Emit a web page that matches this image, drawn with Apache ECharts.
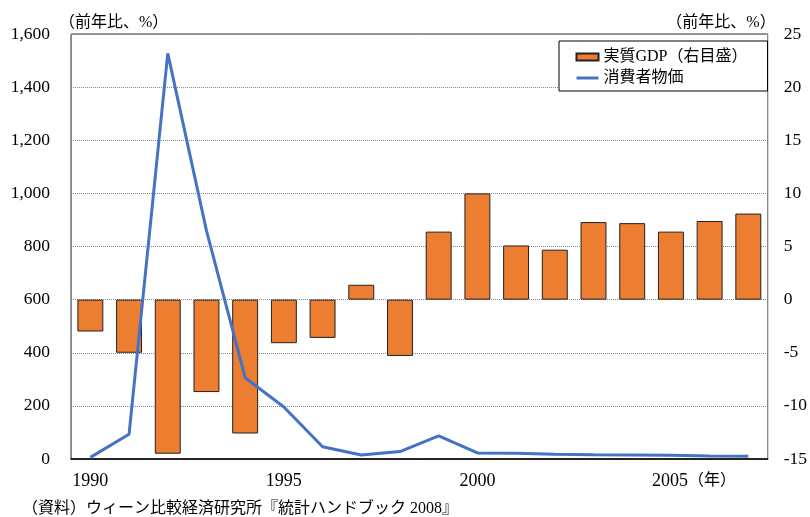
<!DOCTYPE html>
<html>
<head>
    <meta charset="UTF-8">
    <title>実質GDPと消費者物価</title>
</head>
<body style="margin:0">
    <div id="main"></div>
</body>
<style type="text/css">
    #main{height: 517px;width: 810px;}
</style>
<script type="text/javascript" src="https://cdn.jsdelivr.net/npm/echarts@6/dist/echarts.min.js"></script>
<script type="text/javascript">
// データ（前年比、%）
var years = ['1990','1991','1992','1993','1994','1995','1996','1997','1998','1999',
             '2000','2001','2002','2003','2004','2005','2006','2007'];
var gdp = [-3.0, -5.0, -14.5, -8.7, -12.6, -4.1, -3.6, 1.4, -5.3, 6.4,
           10.0, 5.1, 4.7, 7.3, 7.2, 6.4, 7.4, 8.1];
var cpi = [6, 93, 1527, 860, 306, 196, 46, 15, 28, 87,
           23, 22, 18, 16, 15, 14, 11, 10];
var shownYears = ['1990', '1995', '2000', '2005'];

var font = "'Liberation Serif', 'Noto Sans CJK JP', serif";
var chart = echarts.init(document.getElementById('main'));

var option = {
    animation: false,
    textStyle: { fontFamily: font, color: '#000' },
    grid: { left: 71, right: 42, top: 34, bottom: 58, show: true, borderColor: '#333', borderWidth: 1 },
    legend: {
        orient: 'vertical', left: 559, top: 41,
        padding: [8, 20, 5, 16], itemGap: 5, itemWidth: 22, itemHeight: 7,
        borderColor: '#000', borderWidth: 1, backgroundColor: '#fff',
        textStyle: { fontFamily: font, fontSize: 16, color: '#000' },
        data: [
            { name: '実質GDP（右目盛）', icon: 'rect' },
            { name: '消費者物価', itemStyle: { opacity: 0 }, lineStyle: { width: 3 } }
        ]
    },
    xAxis: {
        type: 'category', data: years,
        axisLine: { onZero: false, lineStyle: { color: '#000', width: 1.5 } },
        axisTick: { show: false },
        axisLabel: {
            interval: 0, margin: 13, fontSize: 18, color: '#000', fontFamily: font,
            formatter: function (v) {
                if (v === '2005') return '{p|}' + v + '{n|（年）}';
                return shownYears.indexOf(v) >= 0 ? v : '';
            },
            rich: {
                p: { width: 46 },
                n: { fontSize: 16, fontFamily: font, color: '#000' }
            }
        }
    },
    yAxis: [{
        type: 'value', min: 0, max: 1600, interval: 200,
        name: '（前年比、%）', nameLocation: 'end', nameGap: 3,
        nameTextStyle: { fontSize: 16, color: '#000', align: 'left', padding: [0, 0, 0, -12] },
        axisLine: { show: true, lineStyle: { color: '#888' } },
        axisTick: { show: false },
        axisLabel: {
            margin: 21, fontSize: 17.5, color: '#000',
            formatter: function (v) { return v.toLocaleString('en-US'); }
        },
        splitLine: { lineStyle: { color: '#888', type: 'dotted' } }
    }, {
        type: 'value', min: -15, max: 25, interval: 5,
        name: '（前年比、%）', nameLocation: 'end', nameGap: 3,
        nameTextStyle: { fontSize: 16, color: '#000', align: 'right', padding: [0, -8, 0, 0] },
        axisLine: { show: true, lineStyle: { color: '#888' } },
        axisTick: { show: false },
        axisLabel: { margin: 16, fontSize: 17.5, color: '#000' },
        splitLine: { show: false }
    }],
    series: [{
        name: '実質GDP（右目盛）', type: 'bar', yAxisIndex: 1, data: gdp,
        barCategoryGap: '33%',
        itemStyle: { color: '#ED7D31', borderColor: '#222', borderWidth: 1 }
    }, {
        name: '消費者物価', type: 'line', yAxisIndex: 0, data: cpi,
        symbol: 'none',
        lineStyle: { color: '#4472C4', width: 3 },
        itemStyle: { color: '#4472C4' }
    }],
    graphic: [{
        type: 'text', left: 22, top: 501,
        style: { text: '（資料）ウィーン比較経済研究所『統計ハンドブック 2008』', font: '16px ' + font, fill: '#000' }
    }]
};
chart.setOption(option);
</script>
</html>
